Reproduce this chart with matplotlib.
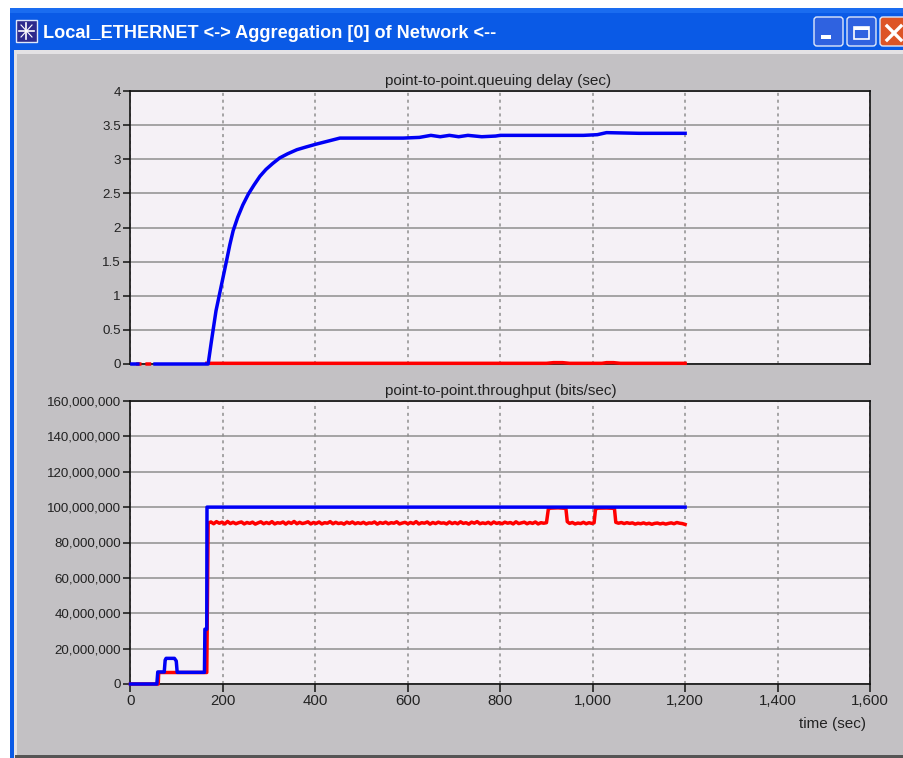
#!/usr/bin/env python3
"""Queuing delay and throughput of a point-to-point link, in a simulator window."""

import matplotlib
matplotlib.use("Agg")
import matplotlib.pyplot as plt
from matplotlib.patches import Rectangle, FancyBboxPatch
from matplotlib.ticker import FuncFormatter

W, H = 904, 758
NAN = float("nan")

window_title = "Local_ETHERNET <-> Aggregation [0] of Network <--"
top_title = "point-to-point.queuing delay (sec)"
bottom_title = "point-to-point.throughput (bits/sec)"
x_label = "time (sec)"

x_ticks = [0, 200, 400, 600, 800, 1000, 1200, 1400, 1600]
delay_ticks = [0, 0.5, 1, 1.5, 2, 2.5, 3, 3.5, 4]
delay_tick_labels = ["0", "0.5", "1", "1.5", "2", "2.5", "3", "3.5", "4"]
thr_ticks = [0, 20e6, 40e6, 60e6, 80e6, 100e6, 120e6, 140e6, 160e6]

# queuing delay, blue series
delay_blue_t = [3, 16, NAN, 53, 168, 175, 185, 195, 208, 215, 222, 232, 243, 255, 267, 280, 293,
                308, 323, 340, 360, 380, 401, 430, 453,
                500, 590, 625, 650, 670, 690, 710, 730, 760, 790, 800, 850, 900, 980, 1010,
                1030, 1100, 1200]
delay_blue = [0, 0, NAN, 0, 0, 0.33, 0.78, 1.1, 1.52, 1.75, 1.95, 2.15, 2.33, 2.49, 2.62, 2.75, 2.85,
              2.94, 3.02, 3.08, 3.14, 3.18, 3.22, 3.27, 3.31,
              3.31, 3.31, 3.32, 3.35, 3.33, 3.35, 3.33, 3.35, 3.33, 3.34, 3.35, 3.35, 3.35, 3.35, 3.36,
              3.39, 3.38, 3.38]

# queuing delay, red series
delay_red_t = [16, 20, NAN, 36, 41, NAN, 165, 640, 900, 915, 935, 950, 1020, 1030, 1045, 1060, 1200]
delay_red = [0, 0, NAN, 0, 0, NAN, 0.01, 0.01, 0.01, 0.02, 0.02, 0.01, 0.01, 0.02, 0.02, 0.01, 0.01]

# throughput, blue series
thr_blue_t = [0, 57, 59, 73, 75, 77, 95, 99, 101, 160, 161, 165, 165.5, 1200]
thr_blue = [0, 0, 6.8e6, 6.8e6, 13.5e6, 14.5e6, 14.5e6, 13e6, 6.6e6, 6.6e6, 31e6, 31e6, 100e6, 100e6]

# throughput, red series (Mbit/s)
thr_red_t = [0, 60, 61, 165, 168,
             174, 180, 186, 192, 198, 204, 210, 216, 222, 228, 234, 240, 246, 252, 258, 264, 270, 276,
             282, 288, 294, 300, 306, 312, 318, 324, 330, 336, 342, 348, 354, 360, 366, 372, 378, 384,
             390, 396, 402, 408, 414, 420, 426, 432, 438, 444, 450, 456, 462, 468, 474, 480, 486, 492,
             498, 504, 510, 516, 522, 528, 534, 540, 546, 552, 558, 564, 570, 576, 582, 588, 594, 600,
             606, 612, 618, 624, 630, 636, 642, 648, 654, 660, 666, 672, 678, 684, 690, 696, 702, 708,
             714, 720, 726, 732, 738, 744, 750, 756, 762, 768, 774, 780, 786, 792, 798, 804, 810, 816,
             822, 828, 834, 840, 846, 852, 858, 864, 870, 876, 882, 888, 894, 900,
             904, 908, 925, 942, 945, 950, 956, 962, 968, 974, 980, 986, 992, 998, 1003,
             1006, 1010, 1030, 1047, 1050, 1056, 1062, 1068, 1074, 1080, 1086, 1092, 1098, 1104, 1110,
             1116, 1122, 1128, 1134, 1140, 1146, 1152, 1158, 1164, 1170, 1176, 1182, 1188, 1194, 1200]
thr_red_mb = [0, 0, 6.5, 6.5, 91,
              91.6, 90.6, 91.8, 90.9, 91.5, 90.5, 91.9, 90.7, 91.4, 90.6, 91.2, 91.6, 90.5, 91.3, 90.8, 91.5, 90.4, 91.1,
              91.7, 90.6, 91.3, 90.7, 91.8, 90.5, 91.2, 90.9, 91.6, 90.4, 91.5, 90.8, 91.9, 90.6, 91.4, 90.7, 91.1, 91.7,
              90.5, 91.3, 90.8, 91.6, 90.5, 91.2, 90.9, 91.8, 90.6, 91.4, 90.7, 91.1, 90.4, 91.5, 90.8, 91.6, 90.6, 91.2,
              90.7, 91.4, 90.5, 91.1, 90.9, 91.6, 90.4, 91.3, 90.8, 91.5, 90.6, 91.2, 90.9, 91.7, 90.5, 91, 91.4, 90.6,
              91.3, 90.7, 91.8, 90.5, 91.2, 90.9, 91.6, 90.4, 91.3, 90.7, 91.5, 90.9, 91.1, 90.5, 91.6, 90.7, 91.3, 90.6,
              91.7, 90.8, 91.2, 90.4, 91.5, 90.9, 91.8, 90.6, 91.1, 90.7, 91.4, 90.5, 91.6, 90.8, 91.2, 90.6, 91.5, 90.9,
              91.3, 90.5, 91.7, 90.7, 91.1, 91.5, 90.6, 91.3, 90.8, 91.6, 90.5, 91.2, 90.9, 91.2,
              98.8, 99.4, 99.6, 99.3, 91.8, 90.8, 91.3, 90.5, 91, 90.7, 91.4, 90.6, 91.2, 90.8, 91.1,
              98.6, 99.4, 99.5, 99.3, 91.4, 90.9, 91.3, 90.7, 91.2, 90.8, 91.1, 90.4, 90.9, 90.6, 91.1,
              90.5, 90.9, 90.3, 90.8, 91, 90.5, 90.9, 90.4, 90.8, 91.1, 90.6, 91.3, 90.9, 90.7, 90.2]

WINDOW_GRAY = "#c3c1c4"
PLOT_BG = "#f5f1f6"
GRID = "#8e8e8e"
BLUE = "#0000f5"
RED = "#ff0000"
XP_BLUE = "#0a5ae6"


def px_axes(fig, left, top, right, bottom):
    """Axes placed from pixel edges measured on the picture."""
    return fig.add_axes([left / W, 1 - bottom / H, (right - left) / W, (bottom - top) / H])


def draw_chrome(fig):
    ax = fig.add_axes([0, 0, 1, 1])
    ax.set_xlim(0, W)
    ax.set_ylim(H, 0)
    ax.axis("off")
    ax.add_patch(Rectangle((10, 8), W - 10, H - 8, fc=XP_BLUE, ec="none"))
    ax.add_patch(Rectangle((14, 50), W - 14, H - 50, fc="#e4e2e4", ec="none"))
    ax.add_patch(Rectangle((17, 54), W - 17, H - 54, fc=WINDOW_GRAY, ec="none"))
    ax.add_patch(Rectangle((15, 755), W - 15, 3, fc="#555555", ec="none"))
    ax.add_patch(Rectangle((10, 8), W - 10, 5, fc="#1a6cf0", ec="none"))

    # window icon
    ax.add_patch(Rectangle((16, 20), 21, 22, fc="#2e2a8c", ec="#dfe8fa", lw=1))
    ax.plot([19, 34], [31, 31], color="white", lw=1.2)
    ax.plot([26.5, 26.5], [23, 39], color="white", lw=1.2)
    ax.plot([21, 32], [25, 37], color="white", lw=0.8)
    ax.plot([21, 32], [37, 25], color="white", lw=0.8)
    ax.text(43, 33, window_title, color="white", fontsize=13.1, fontweight="bold",
            family="Liberation Sans", va="center", ha="left")

    # caption buttons
    for x0, w, fc in [(814, 29, "#2f62e0"), (847, 29, "#2f62e0"), (880, 30, "#dd5426")]:
        ax.add_patch(FancyBboxPatch((x0, 17), w, 29, boxstyle="round,pad=0,rounding_size=3",
                                    fc=fc, ec="#dfe8fa", lw=1))
    ax.add_patch(Rectangle((821, 35), 10, 4, fc="white", ec="none"))
    ax.add_patch(Rectangle((854, 27), 15, 12, fc="none", ec="white", lw=1.2))
    ax.add_patch(Rectangle((854, 27), 15, 3, fc="white", ec="none"))
    ax.plot([887, 901], [26, 40], color="white", lw=2.4)
    ax.plot([887, 901], [40, 26], color="white", lw=2.4)


def style_plot(ax):
    ax.set_facecolor(PLOT_BG)
    ax.set_xlim(0, 1600)
    ax.set_xticks(x_ticks)
    ax.grid(axis="y", color=GRID, lw=1.1, ls="-")
    ax.grid(axis="x", color=GRID, lw=1.1, ls=(0, (2, 2.5)))
    ax.set_axisbelow(True)
    for side, spine in ax.spines.items():
        spine.set_linewidth(1.2)
        spine.set_color("#111111")
    ax.tick_params(axis="y", length=5, width=1.1, color="#111111", labelsize=9.6, labelcolor="#222222", pad=2)
    ax.tick_params(axis="x", length=6, width=1.1, color="#111111", labelsize=10.8, labelcolor="#222222", pad=1)


def main():
    plt.rcParams["font.family"] = ["Liberation Sans", "DejaVu Sans"]
    fig = plt.figure(figsize=(W / 100, H / 100), dpi=100, facecolor="white")
    draw_chrome(fig)

    ax1 = px_axes(fig, 130.5, 91, 870, 364)
    style_plot(ax1)
    ax1.set_ylim(0, 4)
    ax1.set_yticks(delay_ticks)
    ax1.set_yticklabels(delay_tick_labels)
    ax1.tick_params(axis="x", bottom=False, labelbottom=False)
    ax1.plot(delay_red_t, delay_red, color=RED, lw=2.5, clip_on=False, zorder=3)
    ax1.plot(delay_blue_t, delay_blue, color=BLUE, lw=2.5, clip_on=False, zorder=4)
    fig.text(498.5 / W, 1 - 81 / H, top_title, fontsize=11, color="#222222", ha="center", va="center")

    ax2 = px_axes(fig, 130.5, 401, 870, 684)
    style_plot(ax2)
    ax2.set_ylim(0, 160e6)
    ax2.set_yticks(thr_ticks)
    ax2.yaxis.set_major_formatter(FuncFormatter(lambda v, _: f"{v:,.0f}"))
    ax2.xaxis.set_major_formatter(FuncFormatter(lambda v, _: f"{v:,.0f}"))
    ax2.plot(thr_red_t, [v * 1e6 for v in thr_red_mb], color=RED, lw=2.5, clip_on=False, zorder=3)
    ax2.plot(thr_blue_t, thr_blue, color=BLUE, lw=2.5, clip_on=False, zorder=4)
    fig.text(500.5 / W, 1 - 391 / H, bottom_title, fontsize=11, color="#222222", ha="center", va="center")

    fig.text(832.5 / W, 1 - 724 / H, x_label, fontsize=11, color="#222222", ha="center", va="center")

    fig.savefig("out.png", dpi=100, facecolor="white")
    plt.close(fig)


if __name__ == "__main__":
    main()
